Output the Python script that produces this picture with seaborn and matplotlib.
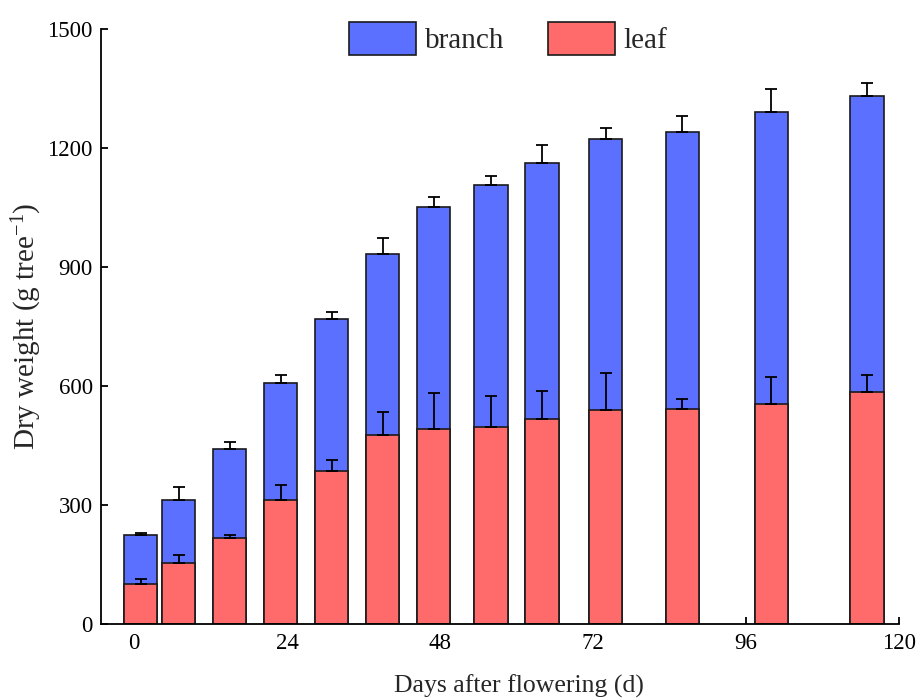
import numpy as np
import pandas as pd
import matplotlib
matplotlib.use('Agg')
import matplotlib.pyplot as plt
from matplotlib.patches import Patch
import seaborn as sns

# days after flowering for each sampling
days = [1, 7, 15, 23, 31, 39, 47, 56, 64, 74, 86, 100, 115]
# leaf dry weight and total (leaf + branch) dry weight, g per tree
leaf = [101, 155, 218, 313, 386, 478, 491, 497, 518, 541, 542, 554, 586]
total = [226, 313, 441, 608, 770, 934, 1051, 1108, 1163, 1223, 1241, 1290, 1332]
# upper error bars
leaf_err = [12, 19, 6, 38, 27, 57, 93, 78, 71, 91, 26, 69, 41]
total_err = [4, 34, 18, 20, 18, 40, 25, 22, 45, 28, 39, 59, 31]

blue = '#5B70FF'
red = '#FF6B6B'

sns.set_theme(style='ticks')
plt.rcParams['font.family'] = ['Liberation Serif', 'DejaVu Serif']
plt.rcParams['mathtext.fontset'] = 'custom'
plt.rcParams['mathtext.rm'] = 'Liberation Serif'
plt.rcParams['mathtext.it'] = 'Liberation Serif:italic'

df = pd.DataFrame({'day': days, 'leaf': leaf, 'total': total})

fig = plt.figure(figsize=(9.19, 6.99), dpi=100)
ax = fig.add_axes([0.1099, 0.1069, 0.8681, 0.8516])

bar_w = 0.87
sns.barplot(data=df, x='day', y='total', native_scale=True, width=bar_w,
            color=blue, saturation=1, edgecolor='#1a1a1a', linewidth=1.2, ax=ax)
sns.barplot(data=df, x='day', y='leaf', native_scale=True, width=bar_w,
            color=red, saturation=1, edgecolor='#1a1a1a', linewidth=1.2, ax=ax)

zeros = np.zeros(len(days))
ax.errorbar(days, total, yerr=[zeros, total_err], fmt='none', ecolor='black',
            elinewidth=1.3, capsize=4, capthick=1.3, zorder=3)
ax.errorbar(days, leaf, yerr=[zeros, leaf_err], fmt='none', ecolor='black',
            elinewidth=1.3, capsize=4, capthick=1.3, zorder=3)

ax.set_xlim(-5.2, 120)
ax.set_ylim(0, 1500)
ax.set_xticks([0, 24, 48, 72, 96, 120])
ax.set_yticks([0, 300, 600, 900, 1200, 1500])
ax.tick_params(direction='in', length=5, width=1.3, labelsize=16.5, colors='black', pad=6)

sns.despine(ax=ax)
for s in ['left', 'bottom']:
    ax.spines[s].set_linewidth(1.3)
    ax.spines[s].set_color('black')

ax.set_xlabel('Days after flowering (d)', fontsize=18.5)
ax.set_ylabel('Dry weight (g tree$^{-1}$)', fontsize=21)
ax.xaxis.set_label_coords(0.524, -0.084)
ax.yaxis.set_label_coords(-0.072, 0.5)

handles = [Patch(facecolor=blue, edgecolor='#1a1a1a', linewidth=1.2),
           Patch(facecolor=red, edgecolor='#1a1a1a', linewidth=1.2)]
fig.legend(handles, ['branch', 'leaf'], loc='upper center', bbox_to_anchor=(0.553, 1.0),
           ncol=2, frameon=False, fontsize=21, handlelength=2.3, handleheight=1.35,
           handletextpad=0.3, columnspacing=1.5, borderaxespad=0.35)

fig.savefig('out.png', dpi=100)
